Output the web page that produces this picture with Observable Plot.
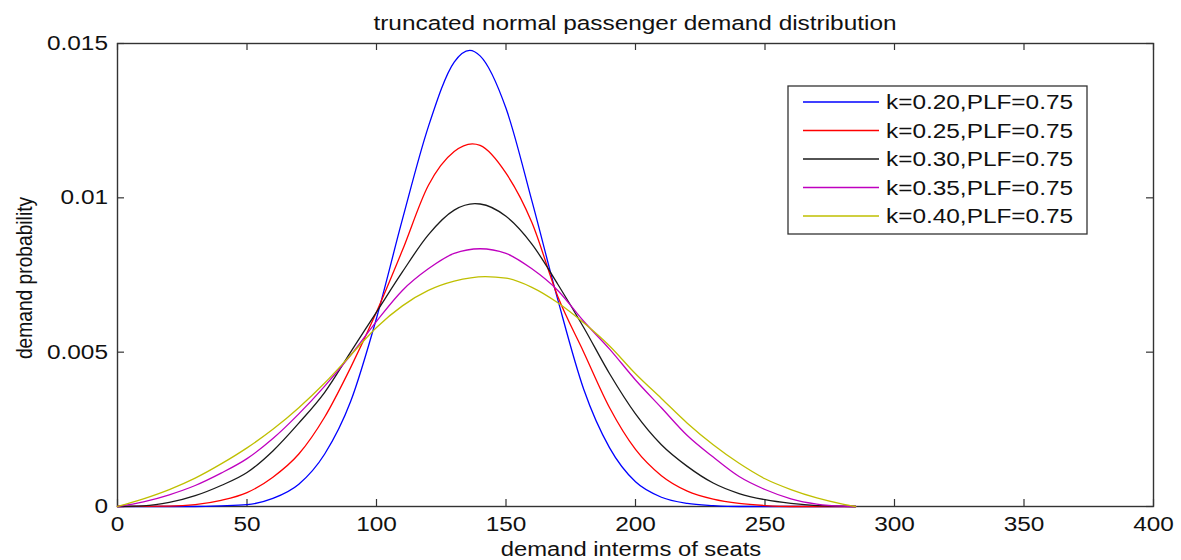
<!DOCTYPE html>
<html>
<head>
<meta charset="utf-8">
<script src="https://cdn.jsdelivr.net/npm/d3@7"></script>
<script src="https://cdn.jsdelivr.net/npm/@observablehq/plot@0.6"></script>
<style>
  html, body { margin: 0; padding: 0; background: #ffffff; }
  #chart svg { display: block; }
</style>
</head>
<body>
<div id="chart"></div>
<script>
// ---------- data ----------
const seriesLabels = ["k=0.20,PLF=0.75", "k=0.25,PLF=0.75", "k=0.30,PLF=0.75", "k=0.35,PLF=0.75", "k=0.40,PLF=0.75"];
const seriesColors = ["#0000ff", "#ff0000", "#1a1a1a", "#bf00bf", "#bfbf00"];

const seats_k20 = [0, 30, 40, 50, 60, 70, 80, 90, 100, 110, 120, 130, 136, 140, 150, 160, 170, 180, 190, 200, 210, 220, 230, 240, 285];
const prob_k20  = [0, 0, 0.00002, 0.00006, 0.00026, 0.00072, 0.0017, 0.0034, 0.0061, 0.0093, 0.0123, 0.0144, 0.01478, 0.0146, 0.0129, 0.0099, 0.0067, 0.0038, 0.0019, 0.0008, 0.0003, 0.0001, 0.00003, 0, 0];

const seats_k25 = [0, 20, 30, 40, 50, 60, 70, 80, 90, 100, 110, 120, 130, 137, 140, 150, 160, 170, 180, 190, 200, 210, 220, 230, 240, 250, 260, 285];
const prob_k25  = [0, 0.00001, 0.00006, 0.0002, 0.00045, 0.00095, 0.0017, 0.0029, 0.0045, 0.0063, 0.0083, 0.0104, 0.0115, 0.01175, 0.0117, 0.0108, 0.0092, 0.0068, 0.0050, 0.0032, 0.00185, 0.0010, 0.0005, 0.00024, 0.0001, 0.00003, 0, 0];

const seats_k30 = [0, 10, 20, 30, 40, 50, 60, 70, 80, 90, 100, 110, 120, 130, 138, 140, 150, 160, 170, 180, 190, 200, 210, 220, 230, 240, 250, 260, 270, 285];
const prob_k30  = [0, 0.00002, 0.00013, 0.00035, 0.00068, 0.0011, 0.0018, 0.0027, 0.0037, 0.0050, 0.0063, 0.0076, 0.0088, 0.0096, 0.00981, 0.0098, 0.0094, 0.0085, 0.0072, 0.0058, 0.0043, 0.0030, 0.0020, 0.0013, 0.00076, 0.00042, 0.00022, 0.0001, 0.00003, 0];

const seats_k35 = [0, 10, 20, 30, 40, 50, 60, 70, 80, 90, 100, 110, 120, 130, 140, 150, 160, 170, 180, 190, 200, 210, 220, 230, 240, 250, 260, 270, 280, 285];
const prob_k35  = [0, 0.00015, 0.00038, 0.00068, 0.00108, 0.00155, 0.0022, 0.0030, 0.0039, 0.0049, 0.0060, 0.0070, 0.0077, 0.0082, 0.00835, 0.0082, 0.0077, 0.0070, 0.0060, 0.0051, 0.0041, 0.0032, 0.0023, 0.0016, 0.00097, 0.00055, 0.00025, 0.00008, 0.00001, 0];

const seats_k40 = [0, 10, 20, 30, 40, 50, 60, 70, 80, 90, 100, 110, 120, 130, 142, 150, 160, 170, 180, 190, 200, 210, 220, 230, 240, 250, 260, 270, 280, 285];
const prob_k40  = [0, 0.00025, 0.00055, 0.00092, 0.00138, 0.0019, 0.0025, 0.0032, 0.0040, 0.0049, 0.0058, 0.0065, 0.0070, 0.0073, 0.00745, 0.0074, 0.0071, 0.0066, 0.00595, 0.0052, 0.0043, 0.0035, 0.0027, 0.0020, 0.0014, 0.0009, 0.00055, 0.00028, 0.00008, 0];

const xTicks = [0, 50, 100, 150, 200, 250, 300, 350, 400];
const yTicks = [0, 0.005, 0.01, 0.015];
const yTickLabels = ["0", "0.005", "0.01", "0.015"];

const titleText = "truncated normal passenger demand distribution";
const xLabelText = "demand interms of seats";
const yLabelText = "demand probability";

// ---------- build table ----------
const seatsList = [seats_k20, seats_k25, seats_k30, seats_k35, seats_k40];
const probList = [prob_k20, prob_k25, prob_k30, prob_k35, prob_k40];
const rows = [];
seriesLabels.forEach((label, i) => {
  seatsList[i].forEach((s, j) => rows.push({series: label, seats: s, prob: probList[i][j]}));
});

// ---------- layout ----------
const W = 1181, H = 560;
const mL = 117, mR = 28, mT = 43, mB = 54;
const plotW = W - mL - mR, plotH = H - mT - mB;
const tickLen = 7;
const FONT = "'Liberation Sans', Arial, Helvetica, sans-serif";
const STRETCH = 1.19;
const axisColor = "#333333";
const textColor = "#111111";

const chart = Plot.plot({
  width: W,
  height: H,
  marginLeft: mL,
  marginRight: mR,
  marginTop: mT,
  marginBottom: mB,
  style: {fontFamily: FONT, fontSize: "20.5px", background: "#ffffff", color: textColor},
  x: {domain: [0, 400]},
  y: {domain: [0, 0.015]},
  color: {domain: seriesLabels, range: seriesColors},
  marks: [
    Plot.frame({stroke: axisColor, strokeWidth: 1.4}),
    Plot.tickX(xTicks, {x: d => d, insetTop: plotH - tickLen, stroke: axisColor, strokeWidth: 1.2}),
    Plot.tickX(xTicks, {x: d => d, insetBottom: plotH - tickLen, stroke: axisColor, strokeWidth: 1.2}),
    Plot.tickY(yTicks, {y: d => d, insetRight: plotW - tickLen, stroke: axisColor, strokeWidth: 1.2}),
    Plot.tickY(yTicks, {y: d => d, insetLeft: plotW - tickLen, stroke: axisColor, strokeWidth: 1.2}),
    Plot.axisX(xTicks, {tickSize: 0, tickPadding: 10, label: null, fill: textColor}),
    Plot.axisY(yTicks, {tickSize: 0, tickPadding: 9.5, label: null, fill: textColor,
      tickFormat: d => yTickLabels[yTicks.indexOf(d)]}),
    Plot.line(rows, {x: "seats", y: "prob", z: "series", stroke: "series", strokeWidth: 1.3, curve: "monotone-x"})
  ]
});

document.getElementById("chart").appendChild(chart);

// stretch tick labels horizontally, like the reference picture
const svg = d3.select(chart);
svg.selectAll("text").each(function() {
  const t = this.getAttribute("transform") || "";
  this.setAttribute("transform", (t + ` scale(${STRETCH},1)`).trim());
});

// title and axis labels
const cx = mL + plotW / 2;
svg.append("text")
  .attr("transform", `translate(${cx},30) scale(${STRETCH},1)`)
  .attr("text-anchor", "middle")
  .attr("font-family", FONT).attr("font-size", 20.5).attr("fill", textColor)
  .text(titleText);
svg.append("text")
  .attr("transform", `translate(${cx - 4},556) scale(${STRETCH},1)`)
  .attr("text-anchor", "middle")
  .attr("font-family", FONT).attr("font-size", 20).attr("fill", textColor)
  .text(xLabelText);
svg.append("text")
  .attr("transform", `translate(32,278) rotate(-90) scale(1,${STRETCH})`)
  .attr("text-anchor", "middle")
  .attr("font-family", FONT).attr("font-size", 19.2).attr("fill", textColor)
  .text(yLabelText);

// legend box
const lg = svg.append("g").attr("class", "legend");
lg.append("rect")
  .attr("x", 788).attr("y", 86).attr("width", 299).attr("height", 148)
  .attr("fill", "#ffffff").attr("stroke", axisColor).attr("stroke-width", 1.3);
seriesLabels.forEach((label, i) => {
  const yy = 102 + i * 28.5;
  lg.append("line")
    .attr("x1", 803).attr("x2", 879).attr("y1", yy).attr("y2", yy)
    .attr("stroke", seriesColors[i]).attr("stroke-width", 1.4);
  lg.append("text")
    .attr("transform", `translate(886,${yy}) scale(${STRETCH},1)`)
    .attr("text-anchor", "start")
    .attr("dy", "0.36em")
    .attr("font-family", FONT).attr("font-size", 20.5).attr("fill", textColor)
    .text(label);
});
</script>
</body>
</html>
